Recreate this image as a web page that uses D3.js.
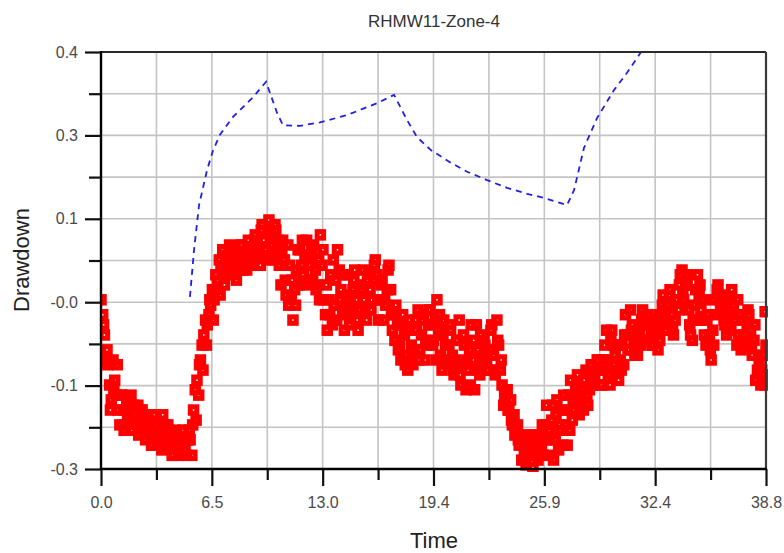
<!DOCTYPE html>
<html>
<head>
<meta charset="utf-8">
<script src="https://cdn.jsdelivr.net/npm/d3@7"></script>
<style>
  html, body { margin: 0; padding: 0; background: #fff; }
  svg { display: block; }
  text { font-family: "Liberation Sans", Arial, sans-serif; }
</style>
</head>
<body>
<script>
// ---------- data ----------
const chartTitle = "RHMW11-Zone-4";
const xTitle = "Time";
const yTitle = "Drawdown";

const xTickValues = [0, 6.467, 12.933, 19.4, 25.867, 32.333, 38.8];
const xTickLabels = ["0.0", "6.5", "13.0", "19.4", "25.9", "32.4", "38.8"];
const yTickValues = [-0.30, -0.16, -0.02, 0.12, 0.26, 0.40];
const yTickLabels = ["-0.3", "-0.1", "-0.0", "0.1", "0.3", "0.4"];

// observed drawdown (red squares), readings A
const obsTimeA = [
 0.0,0.2,0.4,0.6,0.8,1.0,1.2,1.4,1.6,1.8,2.0,2.2,2.4,2.6,2.8,3.0,3.2,3.4,3.6,3.8,
 4.0,4.2,4.4,4.6,4.8,5.0,5.2,5.4,5.6,5.8,6.0,6.2,6.4,6.6,6.8,7.0,7.2,7.4,7.6,7.8,
 8.0,8.2,8.4,8.6,8.8,9.0,9.2,9.4,9.6,9.8,10.0,10.2,10.4,10.6,10.8,11.0,11.2,11.4,11.6,11.8,
 12.0,12.2,12.4,12.6,12.8,13.0,13.2,13.4,13.6,13.8,14.0,14.2,14.4,14.6,14.8,15.0,15.2,15.4,15.6,15.8,
 16.0,16.2,16.4,16.6,16.8,17.0,17.2,17.4,17.6,17.8,18.0,18.2,18.4,18.6,18.8,19.0,19.2,19.4,19.6,19.8,
 20.0,20.2,20.4,20.6,20.8,21.0,21.2,21.4,21.6,21.8,22.0,22.2,22.4,22.6,22.8,23.0,23.2,23.4,23.6,23.8,
 24.0,24.2,24.4,24.6,24.8,25.0,25.2,25.4,25.6,25.8,26.0,26.2,26.4,26.6,26.8,27.0,27.2,27.4,27.6,27.8,
 28.0,28.2,28.4,28.6,28.8,29.0,29.2,29.4,29.6,29.8,30.0,30.2,30.4,30.6,30.8,31.0,31.2,31.4,31.6,31.8,
 32.0,32.2,32.4,32.6,32.8,33.0,33.2,33.4,33.6,33.8,34.0,34.2,34.4,34.6,34.8,35.0,35.2,35.4,35.6,35.8,
 36.0,36.2,36.4,36.6,36.8,37.0,37.2,37.4,37.6,37.8,38.0,38.2,38.4,38.6,38.8,38.75
];
const obsDrawdownA = [
 -0.016,-0.075,-0.125,-0.184,-0.151,-0.201,-0.176,-0.226,-0.193,-0.235,-0.209,-0.243,-0.201,-0.251,-0.218,-0.260,-0.226,-0.251,-0.209,-0.260,
 -0.235,-0.277,-0.243,-0.268,-0.235,-0.277,-0.251,-0.201,-0.151,-0.117,-0.075,-0.058,-0.025,-0.016,0.017,0.042,0.009,0.059,0.026,0.068,
 0.034,0.076,0.042,0.084,0.051,0.093,0.059,0.110,0.068,0.118,0.076,0.101,0.042,0.084,-0.008,0.042,-0.050,0.034,0.068,0.026,
 0.084,0.042,0.076,0.009,0.093,-0.016,-0.067,0.026,-0.025,0.068,0.001,-0.067,0.026,-0.033,0.034,-0.067,0.001,-0.033,0.026,-0.016,
 0.051,-0.050,0.017,-0.025,0.042,-0.067,-0.025,-0.092,-0.041,-0.109,-0.050,-0.125,-0.067,-0.100,-0.041,-0.092,-0.033,-0.084,-0.016,-0.109,
 -0.050,-0.125,-0.067,-0.142,-0.084,-0.159,-0.092,-0.134,-0.058,-0.167,-0.100,-0.125,-0.092,-0.134,-0.058,-0.142,-0.092,-0.159,-0.184,-0.201,
 -0.226,-0.235,-0.260,-0.251,-0.293,-0.260,-0.298,-0.268,-0.243,-0.277,-0.193,-0.251,-0.285,-0.184,-0.235,-0.176,-0.260,-0.151,-0.201,-0.142,
 -0.184,-0.151,-0.193,-0.125,-0.151,-0.117,-0.159,-0.092,-0.142,-0.067,-0.109,-0.151,-0.092,-0.041,-0.100,-0.058,-0.092,-0.067,-0.033,-0.084,
 -0.050,-0.092,-0.058,-0.084,-0.008,-0.058,0.001,-0.075,-0.016,0.026,-0.016,0.009,-0.075,-0.025,0.026,-0.033,-0.075,-0.041,-0.117,-0.016,
 0.009,-0.033,-0.058,-0.016,0.001,-0.050,-0.075,-0.050,-0.084,-0.041,-0.109,-0.151,-0.117,-0.142,-0.092,-0.036
];
// observed drawdown (red squares), readings B
const obsTimeB = [
 0.1,0.3,0.5,0.7,0.9,1.1,1.3,1.5,1.7,1.9,2.1,2.3,2.5,2.7,2.9,3.1,3.3,3.5,3.7,3.9,
 4.1,4.3,4.5,4.7,4.9,5.1,5.3,5.5,5.7,5.9,6.1,6.3,6.5,6.7,6.9,7.1,7.3,7.5,7.7,7.9,
 8.1,8.3,8.5,8.7,8.9,9.1,9.3,9.5,9.7,9.9,10.1,10.3,10.5,10.7,10.9,11.1,11.3,11.5,11.7,11.9,
 12.1,12.3,12.5,12.7,12.9,13.1,13.3,13.5,13.7,13.9,14.1,14.3,14.5,14.7,14.9,15.1,15.3,15.5,15.7,15.9,
 16.1,16.3,16.5,16.7,16.9,17.1,17.3,17.5,17.7,17.9,18.1,18.3,18.5,18.7,18.9,19.1,19.3,19.5,19.7,19.9,
 20.1,20.3,20.5,20.7,20.9,21.1,21.3,21.5,21.7,21.9,22.1,22.3,22.5,22.7,22.9,23.1,23.3,23.5,23.7,23.9,
 24.1,24.3,24.5,24.7,24.9,25.1,25.3,25.5,25.7,25.9,26.1,26.3,26.5,26.7,26.9,27.1,27.3,27.5,27.7,27.9,
 28.1,28.3,28.5,28.7,28.9,29.1,29.3,29.5,29.7,29.9,30.1,30.3,30.5,30.7,30.9,31.1,31.3,31.5,31.7,31.9,
 32.1,32.3,32.5,32.7,32.9,33.1,33.3,33.5,33.7,33.9,34.1,34.3,34.5,34.7,34.9,35.1,35.3,35.5,35.7,35.9,
 36.1,36.3,36.5,36.7,36.9,37.1,37.3,37.5,37.7,37.9,38.1,38.3,38.5,38.7
];
const obsDrawdownB = [
 -0.041,-0.117,-0.159,-0.117,-0.176,-0.226,-0.201,-0.184,-0.218,-0.193,-0.226,-0.218,-0.235,-0.209,-0.243,-0.209,-0.260,-0.226,-0.243,-0.226,
 -0.260,-0.235,-0.277,-0.251,-0.268,-0.251,-0.277,-0.167,-0.176,-0.092,-0.050,-0.041,0.001,0.026,0.051,0.068,0.034,0.076,0.051,0.017,
 0.059,0.034,0.034,0.068,0.042,0.076,0.042,0.084,0.051,0.093,0.051,0.068,0.009,0.051,0.076,-0.016,0.001,0.068,0.042,0.059,
 0.017,0.068,0.034,0.051,0.042,-0.041,-0.016,-0.058,0.017,0.034,-0.033,-0.016,-0.058,0.001,-0.016,-0.033,0.034,-0.050,0.001,0.017,
 0.026,-0.016,-0.050,0.001,0.001,-0.041,-0.058,-0.117,-0.075,-0.134,-0.092,-0.100,-0.033,-0.075,-0.117,-0.058,-0.058,-0.050,-0.067,-0.134,
 -0.092,-0.092,-0.109,-0.117,-0.050,-0.125,-0.167,-0.100,-0.117,-0.058,-0.142,-0.109,-0.117,-0.100,-0.109,-0.050,-0.134,-0.193,-0.167,-0.184,
 -0.209,-0.226,-0.243,-0.277,-0.243,-0.277,-0.243,-0.285,-0.260,-0.226,-0.277,-0.218,-0.251,-0.268,-0.201,-0.226,-0.176,-0.218,-0.167,-0.209,
 -0.167,-0.134,-0.167,-0.159,-0.134,-0.134,-0.117,-0.067,-0.159,-0.092,-0.134,-0.117,-0.125,-0.075,-0.033,-0.084,-0.109,-0.092,-0.058,-0.041,
 -0.075,-0.050,-0.100,-0.050,-0.033,-0.025,-0.041,-0.050,-0.033,0.034,0.009,-0.033,-0.084,0.001,-0.008,-0.050,-0.092,-0.075,-0.067,-0.041,
 -0.016,-0.008,-0.075,-0.041,-0.025,-0.092,-0.041,-0.075,-0.058,-0.067,-0.084,-0.134,-0.159,-0.109
];
// observed drawdown (red squares), readings C
const obsTimeC = [
 0.15,0.35,0.55,0.75,0.95,1.15,1.35,1.55,1.75,1.95,2.15,2.35,2.55,2.75,2.95,3.15,3.35,3.55,3.75,3.95,
 4.15,4.35,4.55,4.75,4.95,5.15,5.35,5.55,5.75,5.95,6.15,6.35,6.55,6.75,6.95,7.15,7.35,7.55,7.75,7.95,
 8.15,8.35,8.55,8.75,8.95,9.15,9.35,9.55,9.75,9.95,10.15,10.35,10.55,10.75,10.95,11.15,11.35,11.55,11.75,11.95,
 12.15,12.35,12.55,12.75,12.95,13.15,13.35,13.55,13.75,13.95,14.15,14.35,14.55,14.75,14.95,15.15,15.35,15.55,15.75,15.95,
 16.15,16.35,16.55,16.75,16.95,17.15,17.35,17.55,17.75,17.95,18.15,18.35,18.55,18.75,18.95,19.15,19.35,19.55,19.75,19.95,
 20.15,20.35,20.55,20.75,20.95,21.15,21.35,21.55,21.75,21.95,22.15,22.35,22.55,22.75,22.95,23.15,23.35,23.55,23.75,23.95,
 24.15,24.35,24.55,24.75,24.95,25.15,25.35,25.55,25.75,25.95,26.15,26.35,26.55,26.75,26.95,27.15,27.35,27.55,27.75,27.95,
 28.15,28.35,28.55,28.75,28.95,29.15,29.35,29.55,29.75,29.95,30.15,30.35,30.55,30.75,30.95,31.15,31.35,31.55,31.75,31.95,
 32.15,32.35,32.55,32.75,32.95,33.15,33.35,33.55,33.75,33.95,34.15,34.35,34.55,34.75,34.95,35.15,35.35,35.55,35.75,35.95,
 36.15,36.35,36.55,36.75,36.95,37.15,37.35,37.55,37.75,37.95,38.15,38.35,38.55,38.75
];
const obsDrawdownC = [
 -0.058,-0.100,-0.201,-0.167,-0.125,-0.176,-0.235,-0.209,-0.176,-0.218,-0.193,-0.201,-0.218,-0.235,-0.260,-0.235,-0.243,-0.268,-0.226,-0.251,
 -0.277,-0.260,-0.260,-0.235,-0.251,-0.235,-0.226,-0.218,-0.125,-0.134,-0.092,-0.016,-0.050,0.001,-0.008,0.026,0.051,0.042,0.068,0.042,
 0.076,0.051,0.068,0.047,0.084,0.054,0.101,0.059,0.101,0.059,0.110,0.084,0.068,0.017,-0.025,0.017,-0.025,0.009,0.084,0.009,
 0.059,0.017,0.001,-0.016,0.068,0.009,-0.041,0.051,-0.050,-0.016,0.026,-0.041,-0.008,0.017,-0.050,0.009,-0.016,0.017,-0.033,0.042,
 -0.016,0.009,-0.016,0.034,-0.041,-0.084,-0.100,-0.058,-0.125,-0.067,-0.117,-0.050,-0.117,-0.050,-0.084,-0.033,-0.092,-0.117,-0.041,-0.075,
 -0.117,-0.058,-0.134,-0.084,-0.142,-0.075,-0.117,-0.159,-0.084,-0.134,-0.075,-0.084,-0.134,-0.067,-0.134,-0.084,-0.117,-0.176,-0.201,-0.218,
 -0.243,-0.251,-0.285,-0.260,-0.268,-0.243,-0.277,-0.251,-0.226,-0.251,-0.235,-0.193,-0.209,-0.226,-0.260,-0.201,-0.235,-0.184,-0.159,-0.176,
 -0.201,-0.176,-0.142,-0.142,-0.117,-0.159,-0.134,-0.117,-0.084,-0.125,-0.092,-0.134,-0.075,-0.100,-0.067,-0.109,-0.075,-0.050,-0.084,-0.058,
 -0.092,-0.075,-0.041,-0.025,-0.067,-0.008,-0.067,-0.016,0.009,-0.008,0.026,-0.058,-0.050,-0.050,0.009,-0.016,-0.050,-0.100,-0.092,0.001,
 -0.033,-0.050,-0.033,-0.067,-0.041,-0.016,-0.100,-0.092,-0.033,-0.092,-0.058,-0.109,-0.134,-0.159
];

// simulated drawdown (blue dashed line)
const simTime = [5.19,5.43,5.72,5.95,6.19,6.54,6.94,7.70,8.87,9.63,10.27,10.62,11.61,12.78,14.35,16.10,17.10,
 17.85,18.44,19.26,20.42,21.36,22.52,23.69,24.86,25.85,27.19,27.60,28.18,28.94,29.93,30.69,31.51,32.30];
const simDrawdown = [-0.011,0.068,0.143,0.172,0.202,0.235,0.261,0.291,0.324,0.350,0.298,0.277,0.276,0.282,0.294,0.314,0.328,
 0.286,0.257,0.235,0.214,0.199,0.185,0.172,0.162,0.155,0.143,0.168,0.239,0.289,0.336,0.365,0.400,0.420];

// ---------- layout ----------
const W = 784, H = 553;
const L = 101, R = 766, T = 52, B = 469;

const svg = d3.select("body").append("svg").attr("width", W).attr("height", H);

const x = d3.scaleLinear().domain([0, 38.8]).range([L, R]);
const y = d3.scaleLinear().domain([-0.3, 0.4]).range([B, T]);

const mid = a => a.slice(1).map((v, i) => (v + a[i]) / 2);
const xMinor = mid(xTickValues);
const yMinor = mid(yTickValues);

// grid
const grid = svg.append("g").attr("stroke", "#c4c4c4").attr("stroke-width", 1.6);
xTickValues.concat(xMinor).forEach(v => {
  grid.append("line").attr("x1", x(v)).attr("x2", x(v)).attr("y1", T).attr("y2", B);
});
yTickValues.concat(yMinor).forEach(v => {
  grid.append("line").attr("x1", L).attr("x2", R).attr("y1", y(v)).attr("y2", y(v));
});

// clip
svg.append("clipPath").attr("id", "plotclip").append("rect")
  .attr("x", L).attr("y", T).attr("width", R - L + 2).attr("height", B - T + 3);

// observed squares
const toPts = (ts, vs) => ts.map((t, i) => ({ t, v: vs[i] }));
const obs = toPts(obsTimeA, obsDrawdownA)
  .concat(toPts(obsTimeB, obsDrawdownB))
  .concat(toPts(obsTimeC, obsDrawdownC))
  .sort((a, b) => a.t - b.t);
const sq = 6.5;
svg.append("g").attr("clip-path", "url(#plotclip)")
  .selectAll("rect").data(obs).join("rect")
  .attr("x", d => x(d.t) - sq / 2).attr("y", d => y(d.v) - sq / 2)
  .attr("width", sq).attr("height", sq)
  .attr("fill", "none").attr("stroke", "#ff0000").attr("stroke-width", 5);

// simulated dashed line
const sim = toPts(simTime, simDrawdown);
svg.append("path").datum(sim).attr("clip-path", "url(#plotclip)")
  .attr("d", d3.line().x(d => x(d.t)).y(d => y(d.v)))
  .attr("fill", "none").attr("stroke", "#1f1fe6").attr("stroke-width", 1.8)
  .attr("stroke-dasharray", "6,5");

// frame: top & right
svg.append("line").attr("x1", L).attr("x2", R).attr("y1", T).attr("y2", T)
  .attr("stroke", "#2a2a2a").attr("stroke-width", 2.2);
svg.append("line").attr("x1", R).attr("x2", R).attr("y1", T).attr("y2", B)
  .attr("stroke", "#3a3a3a").attr("stroke-width", 2.2);

// axes
function styleAxis(g) {
  g.select(".domain").remove();
  g.selectAll(".tick line").attr("stroke", "#111").attr("stroke-width", 2.2);
  g.selectAll(".tick text").attr("fill", "#4a4a4a").attr("font-size", 16)
    .attr("font-family", "'Liberation Sans', Arial, sans-serif");
}
svg.append("g").attr("transform", `translate(${L},0)`)
  .call(d3.axisLeft(y).tickValues(yMinor).tickSize(12).tickFormat(""))
  .call(styleAxis);
svg.append("g").attr("transform", `translate(${L},0)`)
  .call(d3.axisLeft(y).tickValues(yTickValues).tickSize(16).tickPadding(7)
    .tickFormat((d, i) => yTickLabels[i]))
  .call(styleAxis);
svg.append("g").attr("transform", `translate(0,${B})`)
  .call(d3.axisBottom(x).tickValues(xMinor).tickSize(11).tickFormat(""))
  .call(styleAxis);
svg.append("g").attr("transform", `translate(0,${B})`)
  .call(d3.axisBottom(x).tickValues(xTickValues).tickSize(17).tickPadding(11)
    .tickFormat((d, i) => xTickLabels[i]))
  .call(styleAxis);

svg.append("line").attr("x1", L).attr("x2", L).attr("y1", T - 1).attr("y2", B + 1)
  .attr("stroke", "#000").attr("stroke-width", 2.4);
svg.append("line").attr("x1", L - 1).attr("x2", R + 1).attr("y1", B).attr("y2", B)
  .attr("stroke", "#000").attr("stroke-width", 2.4);

// titles
svg.append("text").attr("x", 434).attr("y", 27).attr("text-anchor", "middle")
  .attr("font-size", 17).attr("fill", "#333").text(chartTitle);
svg.append("text").attr("x", 434).attr("y", 548).attr("text-anchor", "middle")
  .attr("font-size", 22).attr("fill", "#222").text(xTitle);
svg.append("text").attr("transform", "translate(29,260) rotate(-90)")
  .attr("text-anchor", "middle").attr("font-size", 22).attr("fill", "#222").text(yTitle);
</script>
</body>
</html>
